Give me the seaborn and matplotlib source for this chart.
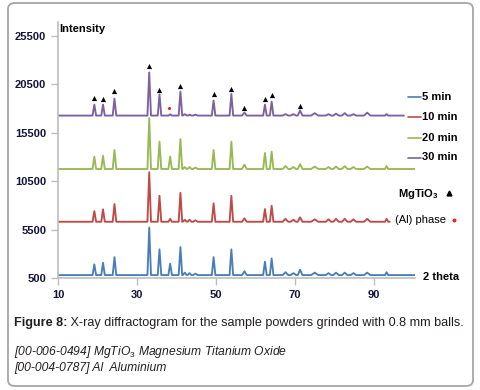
import numpy as np
import pandas as pd
import matplotlib
matplotlib.use("Agg")
import matplotlib.pyplot as plt
from matplotlib.patches import FancyBboxPatch
from matplotlib.lines import Line2D
import seaborn as sns

# ---------------- data ----------------
series_names = ["5 min", "10 min", "20 min", "30 min"]
series_colors = ["#4A7EBB", "#BE4B48", "#98B954", "#7D60A0"]
baselines = [800, 6300, 11740, 17250]
start_2theta = [10, 10, 10, 10]
end_2theta = [100.4, 94.0, 100.4, 97.6]

peak_pos = [19.2, 21.4, 24.3, 33.1, 35.7, 38.4, 41.0, 42.1, 43.3, 44.8, 49.4,
            53.9, 57.2, 62.4, 64.1, 67.6, 69.6, 71.3, 75.0, 78.5, 80.4, 82.6,
            84.8, 88.3, 93.2]
peak_halfwidth = [0.45, 0.45, 0.45, 0.45, 0.45, 0.45, 0.45, 0.5, 0.5, 0.6, 0.45,
                  0.45, 0.6, 0.45, 0.45, 0.7, 0.7, 0.6, 0.9, 0.7, 0.7, 0.7,
                  0.7, 0.8, 0.4]

h_5min = [1100, 1280, 1850, 4900, 2650, 1180, 2890, 250, 200, 150, 1850,
          2650, 400, 1380, 1720, 300, 200, 550, 250, 200, 250, 250,
          200, 250, 300]
h_10min = [1100, 1280, 1820, 5100, 2680, 300, 2990, 200, 200, 150, 1900,
           2680, 350, 1310, 1650, 300, 200, 450, 250, 250, 300, 300,
           250, 300, 300]
h_20min = [1270, 1370, 1960, 5260, 2820, 1270, 3090, 200, 200, 150, 1960,
           2820, 450, 1650, 1790, 300, 200, 500, 250, 200, 250, 300,
           200, 250, 300]
h_30min = [1130, 1130, 1750, 4450, 2170, 130, 2470, 150, 100, 100, 1550,
           2230, 300, 1130, 1440, 150, 150, 520, 250, 150, 200, 250,
           150, 300, 150]
heights = [h_5min, h_10min, h_20min, h_30min]

# MgTiO3 reflections (triangles) and Al reflection (dot) on the 30 min pattern
tri_x = [19.2, 21.4, 24.3, 33.1, 35.7, 41.0, 49.4, 53.9, 57.2, 62.4, 64.1, 71.2]
tri_y = [19090, 19000, 19810, 22360, 19880, 20300, 19470, 20020, 18060, 18950, 19370, 18230]
al_x = [38.2]
al_y = [18030]

x_ticks = [10, 30, 50, 70, 90]
y_ticks = [500, 5500, 10500, 15500, 20500, 25500]

# ---------------- build long table ----------------
rows = []
for name, base, x0, x1, hs in zip(series_names, baselines, start_2theta, end_2theta, heights):
    rows.append((name, x0, base))
    for p, w, h in zip(peak_pos, peak_halfwidth, hs):
        if p + w > x1:
            continue
        rows.append((name, p - w, base))
        rows.append((name, p, base + h))
        rows.append((name, p + w, base))
    rows.append((name, x1, base))
df = pd.DataFrame(rows, columns=["series", "two_theta", "intensity"])

# ---------------- figure ----------------
sns.set_theme(style="white")
plt.rcParams["font.family"] = ["Liberation Sans", "DejaVu Sans"]
plt.rcParams["mathtext.fontset"] = "custom"
plt.rcParams["mathtext.rm"] = "Liberation Sans"
plt.rcParams["mathtext.bf"] = "Liberation Sans:bold"
plt.rcParams["mathtext.it"] = "Liberation Sans:italic"

W, H = 481, 390
fig = plt.figure(figsize=(W / 100, H / 100), dpi=100)
fig.patch.set_facecolor("white")

def fx(px):
    return px / W

def fy(py):
    return 1 - py / H

border = FancyBboxPatch((fx(8), fy(386)), fx(473) - fx(8), fy(3) - fy(386),
                        boxstyle="round,pad=0,rounding_size=0.015",
                        transform=fig.transFigure, facecolor="white",
                        edgecolor="#A6A6A6", linewidth=1.3, zorder=-5)
fig.patches.append(border)

ax = fig.add_axes([fx(58), fy(278), fx(415) - fx(58), fy(22) - fy(278)])
ax.set_facecolor("none")
ax.set_zorder(2)

sns.lineplot(data=df, x="two_theta", y="intensity", hue="series",
             hue_order=series_names, palette=series_colors, estimator=None,
             sort=False, legend=False, linewidth=1.35, ax=ax)
sns.scatterplot(x=tri_x, y=tri_y, marker="^", color="black", s=14,
                linewidth=0, ax=ax, zorder=5)
sns.scatterplot(x=al_x, y=al_y, marker="o", color="#E8202A", s=5,
                linewidth=0, ax=ax, zorder=5)

ax.set_xlim(10, 100.4)
ax.set_ylim(500, 26900)
ax.set_xticks(x_ticks)
ax.set_yticks(y_ticks)
ax.set_xticklabels([str(t) for t in x_ticks])
ax.set_yticklabels([str(t) for t in y_ticks])
ax.set_xlabel("")
ax.set_ylabel("")
for s in ["top", "right"]:
    ax.spines[s].set_visible(False)
for s in ["left", "bottom"]:
    ax.spines[s].set_color("#BDBDBD")
    ax.spines[s].set_linewidth(1.2)
label_col = "#14143A"
ax.tick_params(axis="both", which="major", direction="out", length=5,
               width=1.0, color="#BDBDBD", labelsize=8, labelcolor=label_col,
               pad=3.5, left=True, bottom=True)
for lab in ax.get_xticklabels() + ax.get_yticklabels():
    lab.set_fontweight("bold")

# texts
tk = dict(fontsize=8, fontweight="bold", color="black", va="center", ha="left")
fig.text(fx(59), fy(29), "Intensity", **tk)
for i, (name, col) in enumerate(zip(series_names, series_colors)):
    yy = [96.7, 117.3, 138.3, 157.5][i]
    fig.lines.append(Line2D([fx(408), fx(421.5)], [fy(yy), fy(yy)],
                            transform=fig.transFigure, color=col, linewidth=1.2))
    fig.text(fx(422.5), fy(yy), name, **tk)
fig.text(fx(398), fy(194), r"MgTiO$_\mathbf{3}$", **tk)
fig.lines.append(Line2D([fx(449)], [fy(193)], transform=fig.transFigure,
                        marker="^", markersize=3.5, color="black", linestyle="none"))
fig.text(fx(395), fy(220), "(Al) phase", fontsize=8, color="black",
         va="center", ha="left")
fig.lines.append(Line2D([fx(454)], [fy(220)], transform=fig.transFigure,
                        marker="o", markersize=1.8, color="#E8202A", linestyle="none"))
fig.text(fx(423), fy(277), "2 theta", **tk)

# caption
t1 = fig.text(fx(14), fy(323), "Figure 8:", fontsize=9.1, fontweight="bold",
              color="#231F20", va="center", ha="left")
fig.texts.append(matplotlib.text.Annotation(
    " X-ray diffractogram for the sample powders grinded with 0.8 mm balls.",
    xy=(1, 0.5), xycoords=t1, va="center", ha="left", fontsize=9.1,
    color="#231F20", annotation_clip=False))
fig.texts[-1].set_figure(fig)
fig.text(fx(14), fy(352), r"[00-006-0494] MgTiO$_\mathit{3}$ Magnesium Titanium Oxide",
         fontsize=8.7, style="italic", color="#231F20", va="center", ha="left")
fig.text(fx(14), fy(368), "[00-004-0787] Al  Aluminium",
         fontsize=8.7, style="italic", color="#231F20", va="center", ha="left")

fig.savefig("out.png", dpi=100, facecolor="white")
